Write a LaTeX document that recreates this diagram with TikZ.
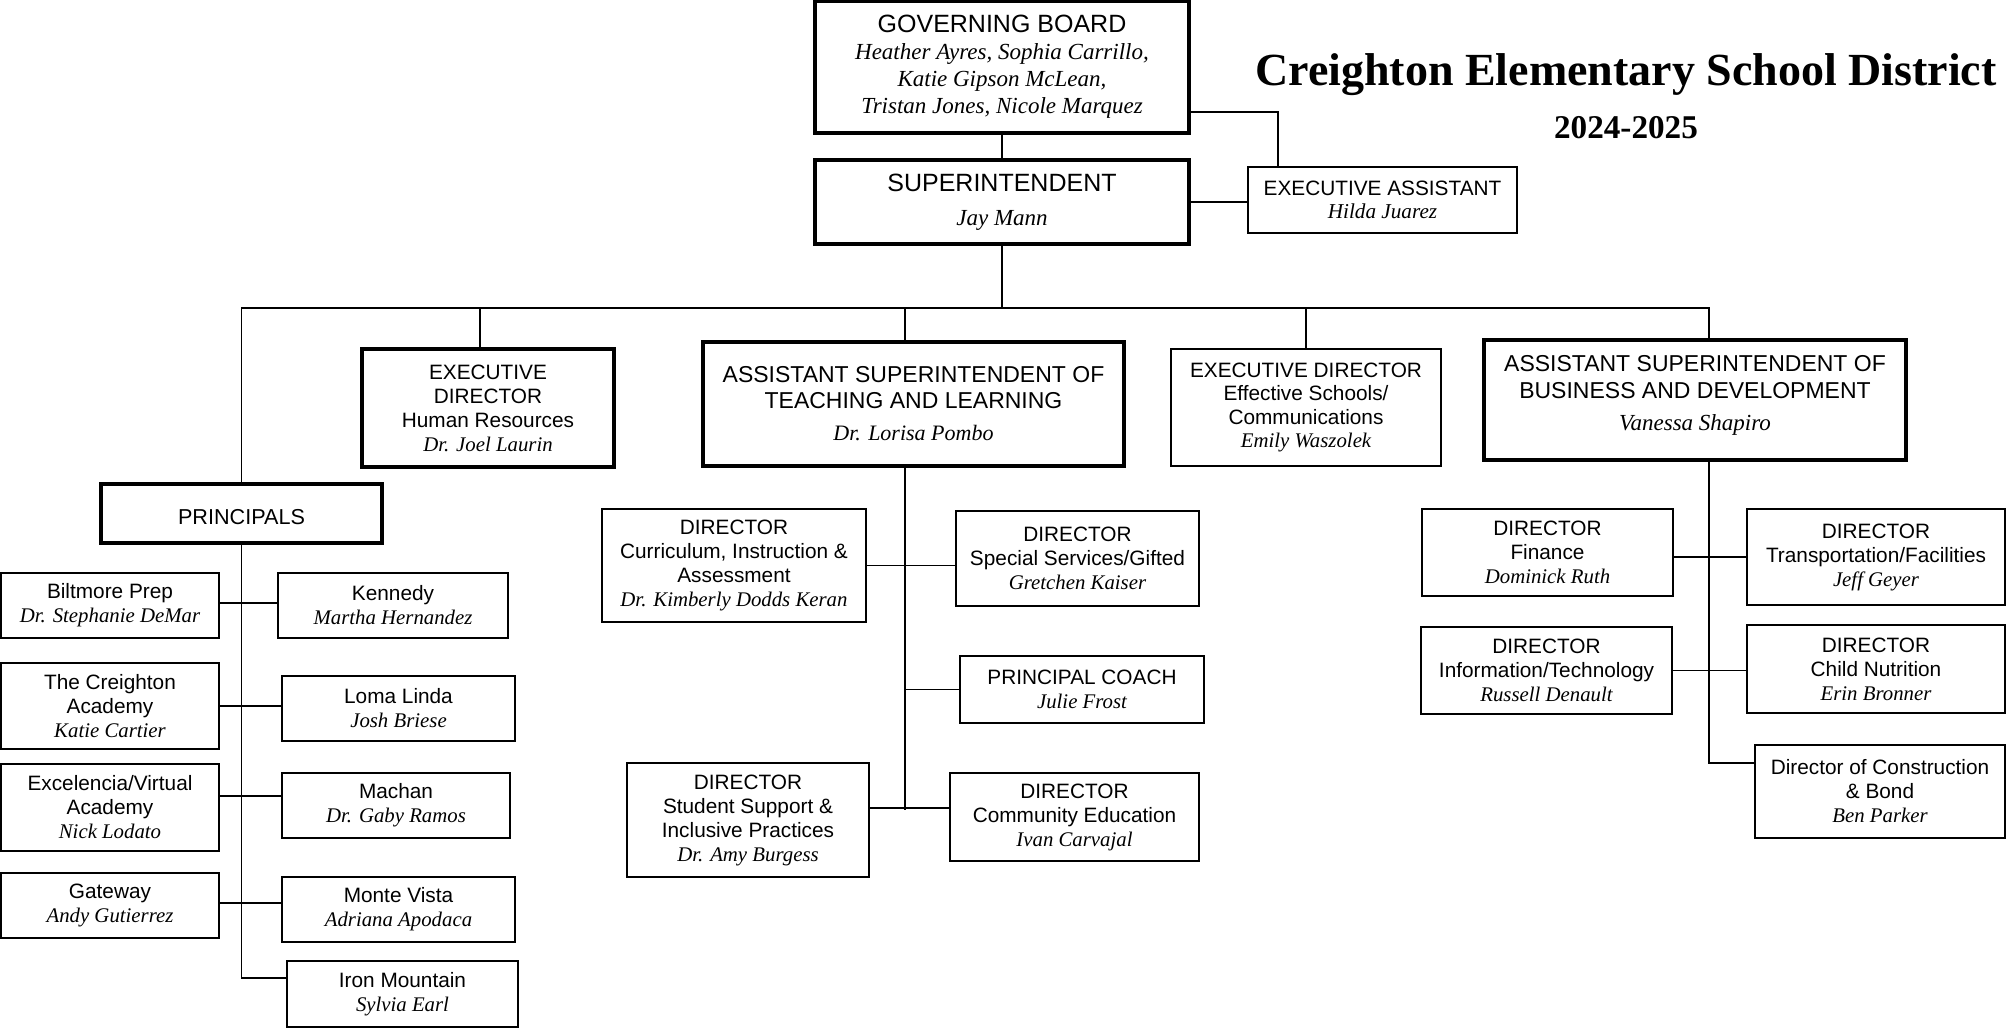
\documentclass[tikz,border=0pt]{standalone}
\usepackage{fontspec}
\setmainfont{Liberation Serif}
\setsansfont{Liberation Sans}
\newcommand{\pname}[1]{{\rmfamily\itshape #1}}
\begin{document}
\begin{tikzpicture}[x=0.5pt,y=-0.5pt,
  box/.style={draw, rectangle, inner sep=0pt, align=center, line width=1pt,
    font=\sffamily\fontsize{10.4}{12}\selectfont},
  tbox/.style={box, line width=1.6pt},
  conn/.style={line width=0.8pt},
  ttl/.style={font=\rmfamily\bfseries\fontsize{23}{27}\selectfont, anchor=base, inner sep=0pt}]
\useasboundingbox (0,0) rectangle (2007,1029);

% title
\node[ttl] (title) at (1626,85) {Creighton Elementary School District};
\node[ttl, font=\rmfamily\bfseries\fontsize{16.6}{20}\selectfont] (year) at (1626,138) {2024-2025};

% top
\node[tbox, minimum width=187pt, minimum height=66pt, font=\sffamily\fontsize{12.5}{13.5}\selectfont] (gov) at (1002,67)
  {GOVERNING BOARD\\ \pname{\fontsize{11.5}{13.5}\selectfont Heather Ayres, Sophia Carrillo,}\\ \pname{\fontsize{11.5}{13.5}\selectfont Katie Gipson McLean,}\\ \pname{\fontsize{11.5}{13.5}\selectfont Tristan Jones, Nicole Marquez}};
\node[tbox, minimum width=187pt, minimum height=42pt, font=\sffamily\fontsize{12.5}{17}\selectfont] (sup) at (1002,202)
  {SUPERINTENDENT\\ \pname{\fontsize{11.5}{13}\selectfont Jay Mann}};
\node[box, minimum width=134.5pt, minimum height=33pt, font=\sffamily\fontsize{10.4}{11.5}\selectfont] (ea) at (1382.5,200)
  {EXECUTIVE ASSISTANT\\ \pname{\fontsize{10.6}{11.5}\selectfont Hilda Juarez}};

% second level
\node[tbox, minimum width=126pt, minimum height=59pt] (hr) at (488,408)
  {EXECUTIVE\\ DIRECTOR\\ Human Resources\\ \pname{Dr. Joel Laurin}};
\node[tbox, minimum width=210.5pt, minimum height=62pt, font=\sffamily\fontsize{11.5}{13}\selectfont] (astl) at (913.5,404)
  {ASSISTANT SUPERINTENDENT OF\\ TEACHING AND LEARNING\\[3pt] \pname{\fontsize{11}{13}\selectfont Dr. Lorisa Pombo}};
\node[box, minimum width=135pt, minimum height=58.5pt, font=\sffamily\fontsize{10.4}{11.75}\selectfont] (es) at (1306,407.5)
  {EXECUTIVE DIRECTOR\\ Effective Schools/\\ Communications\\ \pname{Emily Waszolek}};
\node[tbox, minimum width=211pt, minimum height=60pt, text depth=7pt, font=\sffamily\fontsize{11.5}{13.5}\selectfont] (asbd) at (1695,400)
  {ASSISTANT SUPERINTENDENT OF\\ BUSINESS AND DEVELOPMENT\\[2.5pt] \pname{Vanessa Shapiro}};

% principals
\node[tbox, minimum width=140.5pt, minimum height=29.5pt, text height=11.5pt, font=\sffamily\fontsize{10.8}{12}\selectfont] (prin) at (241.5,513.5) {PRINCIPALS};
\begin{scope}[every node/.append style={font=\sffamily\fontsize{10.4}{11.75}\selectfont}]
\node[box, line width=1.2pt, minimum width=109pt, minimum height=32.5pt] (bilt) at (110,605.5) {Biltmore Prep\\ \pname{Dr. Stephanie DeMar}};
\node[box, line width=1.2pt, minimum width=109pt, minimum height=43pt] (crei) at (110,706) {The Creighton\\ Academy\\ \pname{Katie Cartier}};
\node[box, line width=1.2pt, minimum width=109pt, minimum height=43.5pt] (exc) at (110,807.5) {Excelencia/Virtual\\ Academy\\ \pname{Nick Lodato}};
\node[box, line width=1.2pt, minimum width=109pt, minimum height=32.5pt] (gate) at (110,905.5) {Gateway\\ \pname{Andy Gutierrez}};
\node[box, minimum width=115pt, minimum height=32.5pt] (kenn) at (393,605.5) {Kennedy\\ \pname{Martha Hernandez}};
\node[box, minimum width=116.5pt, minimum height=32.5pt] (loma) at (398.5,708.5) {Loma Linda\\ \pname{Josh Briese}};
\node[box, minimum width=114pt, minimum height=32.5pt] (mach) at (396,805.5) {Machan\\ \pname{Dr. Gaby Ramos}};
\node[box, minimum width=116.5pt, minimum height=32.5pt] (monte) at (398.5,909.5) {Monte Vista\\ \pname{Adriana Apodaca}};
\node[box, minimum width=115.5pt, minimum height=33pt] (iron) at (402.5,994) {Iron Mountain\\ \pname{Sylvia Earl}};
\end{scope}

% teaching and learning
\node[box, minimum width=132pt, minimum height=56.5pt] (curr) at (734,565.5) {DIRECTOR\\ Curriculum, Instruction \&\\ Assessment\\ \pname{Dr. Kimberly Dodds Keran}};
\node[box, minimum width=121.5pt, minimum height=47.5pt] (spec) at (1077.5,558.5) {DIRECTOR\\ Special Services/Gifted\\ \pname{Gretchen Kaiser}};
\node[box, minimum width=122pt, minimum height=33.5pt] (coach) at (1082,689.5) {PRINCIPAL COACH\\ \pname{Julie Frost}};
\node[box, minimum width=121pt, minimum height=57pt] (stud) at (748,820) {DIRECTOR\\ Student Support \&\\ Inclusive Practices\\ \pname{Dr. Amy Burgess}};
\node[box, minimum width=124.5pt, minimum height=44pt] (comm) at (1074.5,817) {DIRECTOR\\ Community Education\\ \pname{Ivan Carvajal}};

% business and development
\node[box, minimum width=125.5pt, minimum height=43.5pt] (fin) at (1547.5,552.5) {DIRECTOR\\ Finance\\ \pname{Dominick Ruth}};
\node[box, minimum width=129pt, minimum height=48pt] (trans) at (1876,557) {DIRECTOR\\ Transportation/Facilities\\ \pname{Jeff Geyer}};
\node[box, minimum width=125.5pt, minimum height=43.5pt] (it) at (1546.5,670.5) {DIRECTOR\\ Information/Technology\\ \pname{Russell Denault}};
\node[box, minimum width=129pt, minimum height=44pt] (cn) at (1876,669) {DIRECTOR\\ Child Nutrition\\ \pname{Erin Bronner}};
\node[box, minimum width=125pt, minimum height=46.5pt] (cons) at (1880,791.5) {Director of Construction\\ \& Bond\\ \pname{Ben Parker}};

% connectors: top
\draw[conn] (gov.south) -- (sup.north);
\draw[conn] ([yshift=-22.5pt]gov.east) -| ([xshift=-52.25pt]ea.north);
\draw[conn] (sup.east) -- (sup.east -| ea.west);
\coordinate (busR) at (1709,308);
\draw[conn] (sup.south) -- (sup.south |- busR);
\draw[conn] (prin.north) -- (prin.north |- busR) -- (busR) -- (busR |- asbd.north);
\draw[conn] ([xshift=-4pt]hr.north) -- ([xshift=-4pt]hr.north |- busR);
\draw[conn] ([xshift=-4.25pt]astl.north) -- ([xshift=-4.25pt]astl.north |- busR);
\draw[conn] (es.north) -- (es.north |- busR);

% principals
\draw[conn] (prin.south) |- ([yshift=8pt]iron.west);
\draw[conn] ([yshift=1.25pt]bilt.east) -- ([yshift=1.25pt]bilt.east -| kenn.west);
\draw[conn] (crei.east) -- (crei.east -| loma.west);
\draw[conn] ([yshift=5.75pt,xshift=-1pt]exc.east) -- ([yshift=5.75pt]exc.east -| mach.west);
\draw[conn] ([yshift=1.25pt]gate.east) -- ([yshift=1.25pt]gate.east -| monte.west);

% teaching and learning
\coordinate (tlEnd) at (905,810);
\draw[conn] (tlEnd |- astl.south) -- (tlEnd);
\draw[conn] (curr.east) -- (curr.east -| spec.west);
\draw[conn] (coach.west) -- (coach.west -| tlEnd);
\draw[conn] ([yshift=4.5pt]comm.west) -- ([yshift=4.5pt]comm.west -| stud.east);

% business and development
\draw[conn] (busR |- asbd.south) |- ([yshift=14.25pt]cons.west);
\draw[conn] (trans.west) -- (trans.west -| fin.east);
\draw[conn] (it.east) -- (it.east -| cn.west);
\end{tikzpicture}
\end{document}
